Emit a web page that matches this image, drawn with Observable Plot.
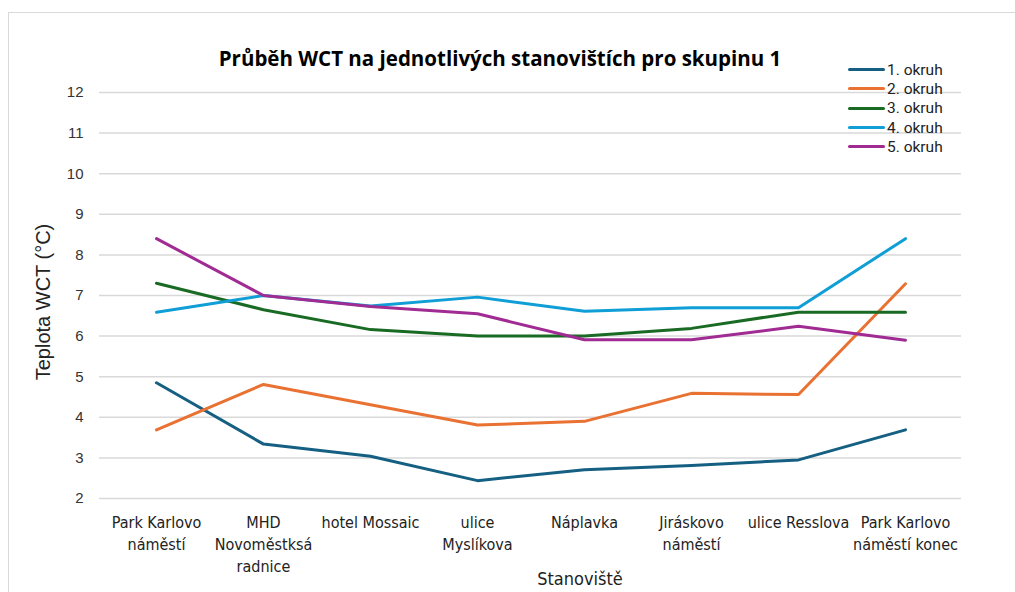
<!DOCTYPE html>
<html>
<head>
<meta charset="utf-8">
<script src="https://cdn.jsdelivr.net/npm/d3@7"></script>
<script src="https://cdn.jsdelivr.net/npm/@observablehq/plot@0.6"></script>
<style>
  html, body { margin: 0; padding: 0; background: #fff; overflow: hidden; }
  #wrap { position: relative; width: 1015px; height: 592px; overflow: hidden; }
  #frame { position: absolute; left: 8px; top: 12px; width: 1100px; height: 700px; border: 1.5px solid #d9d9d9; box-sizing: border-box; }
  #chart { position: absolute; left: 0; top: 0; }
  #title { position: absolute; left: 0; width: 1000px; top: 44px; text-align: center; font-family: "Open Sans", "DejaVu Sans", sans-serif; font-weight: bold; font-size: 20.5px; line-height: 28px; color: #000; }
  #ylabel { position: absolute; left: 43px; top: 302px; transform: translate(-50%, -50%) rotate(-90deg); white-space: nowrap; font-family: "Liberation Sans", Arial, sans-serif; font-size: 20px; color: #222; }
  #xlabel { position: absolute; left: 580px; top: 578px; transform: translate(-50%, -50%); white-space: nowrap; font-family: "Liberation Sans Narrow", "DejaVu Sans Condensed", sans-serif; font-size: 18px; color: #222; }
  #legend { position: absolute; left: 848px; top: 60px; font-family: Roboto, "Noto Sans", sans-serif; font-size: 15.5px; color: #222; }
  .li { display: flex; align-items: center; height: 19.3px; }
  .sw { width: 37px; height: 3px; border-radius: 2px; margin-right: 2px; }
</style>
</head>
<body>
<div id="wrap">
  <div id="frame"></div>
  <div id="chart"></div>
  <div id="title"></div>
  <div id="ylabel"></div>
  <div id="xlabel"></div>
  <div id="legend"></div>
</div>
<script>
const titleText = "Průběh WCT na jednotlivých stanovištích pro skupinu 1";
const yTitle = "Teplota WCT (°C)";
const xTitle = "Stanoviště";
const categories = ["P1", "MHD", "HM", "UM", "NA", "JN", "UR", "P2"];
const tickLabels = [
  "Park Karlovo\nnáměstí",
  "MHD\nNovoměstksá\nradnice",
  "hotel Mossaic",
  "ulice\nMyslíkova",
  "Náplavka",
  "Jiráskovo\nnáměstí",
  "ulice Resslova",
  "Park Karlovo\nnáměstí konec"
];
const seriesNames = ["1. okruh", "2. okruh", "3. okruh", "4. okruh", "5. okruh"];
const seriesColors = ["#156082", "#E97132", "#196B24", "#0F9ED5", "#A02B93"];
const okruh1 = [4.85, 3.34, 3.04, 2.44, 2.71, 2.81, 2.95, 3.69];
const okruh2 = [3.69, 4.81, 4.31, 3.81, 3.90, 4.59, 4.56, 7.29];
const okruh3 = [7.30, 6.65, 6.16, 6.00, 6.00, 6.19, 6.59, 6.59];
const okruh4 = [6.59, 7.00, 6.74, 6.96, 6.61, 6.70, 6.70, 8.40];
const okruh5 = [8.40, 7.00, 6.73, 6.55, 5.91, 5.91, 6.24, 5.90];
const yTicks = [2, 3, 4, 5, 6, 7, 8, 9, 10, 11, 12];

const allSeries = [okruh1, okruh2, okruh3, okruh4, okruh5];
const rows = [];
allSeries.forEach((vals, si) => {
  vals.forEach((v, ci) => rows.push({series: seriesNames[si], station: categories[ci], value: v}));
});
const labelOf = new Map(categories.map((c, i) => [c, tickLabels[i]]));

const plot = Plot.plot({
  width: 1015,
  height: 592,
  marginTop: 92,
  marginBottom: 94,
  marginLeft: 99,
  marginRight: 54,
  style: {background: "transparent", color: "#333"},
  x: {type: "point", domain: categories, padding: 0.5, label: null},
  y: {domain: [2, 12], label: null},
  color: {domain: seriesNames, range: seriesColors},
  marks: [
    Plot.ruleY(yTicks, {stroke: "#d9d9d9", strokeWidth: 1.5}),
    Plot.axisY({ticks: yTicks, tickSize: 0, tickPadding: 16, label: null,
      fontFamily: "Liberation Sans, Arial, sans-serif", fontSize: 15, fill: "#333"}),
    Plot.axisX({tickSize: 0, tickPadding: 14, label: null, tickFormat: d => labelOf.get(d),
      lineHeight: 1.375, fontFamily: "Liberation Sans Narrow, DejaVu Sans Condensed, sans-serif", fontSize: 16, fill: "#222"}),
    Plot.line(rows, {x: "station", y: "value", z: "series", stroke: "series", strokeWidth: 3, strokeLinejoin: "round", strokeLinecap: "round"})
  ]
});
document.getElementById("chart").appendChild(plot);
document.getElementById("title").textContent = titleText;
document.getElementById("ylabel").textContent = yTitle;
document.getElementById("xlabel").textContent = xTitle;
const leg = document.getElementById("legend");
seriesNames.forEach((n, i) => {
  const row = document.createElement("div");
  row.className = "li";
  const sw = document.createElement("span");
  sw.className = "sw";
  sw.style.background = seriesColors[i];
  const t = document.createElement("span");
  t.textContent = n;
  row.appendChild(sw); row.appendChild(t);
  leg.appendChild(row);
});
</script>
</body>
</html>
